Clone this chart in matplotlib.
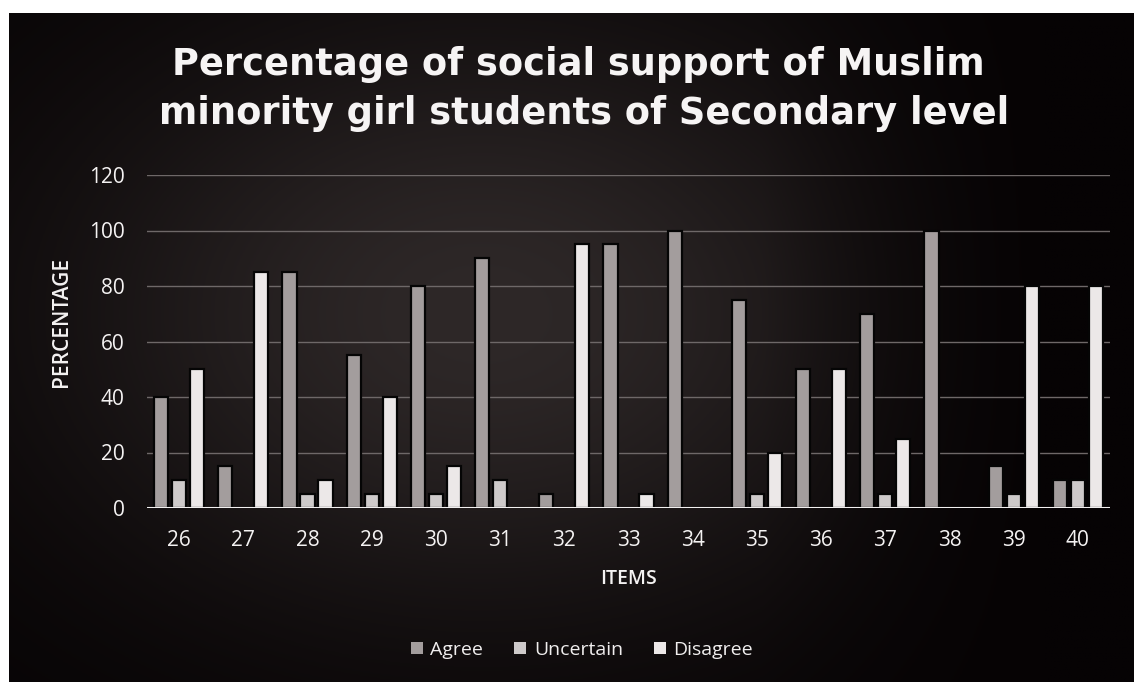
import numpy as np
import matplotlib
matplotlib.use("Agg")
import matplotlib.pyplot as plt
from matplotlib.patches import Patch

plt.rcParams["font.family"] = ["Open Sans", "DejaVu Sans"]

# Survey items and response percentages
items = ["26", "27", "28", "29", "30", "31", "32", "33", "34", "35", "36", "37", "38", "39", "40"]
agree = [40, 15, 85, 55, 80, 90, 5, 95, 100, 75, 50, 70, 100, 15, 10]
uncertain = [10, 0, 5, 5, 5, 10, 0, 0, 0, 5, 0, 5, 0, 5, 10]
disagree = [50, 85, 10, 40, 15, 0, 95, 5, 0, 20, 50, 25, 0, 80, 80]
series_names = ["Agree", "Uncertain", "Disagree"]
y_ticks = [0, 20, 40, 60, 80, 100, 120]

title_lines = ["Percentage of social support of Muslim",
               "minority girl students of Secondary level"]

W, H = 1134, 682
fig = plt.figure(figsize=(W / 100, H / 100), dpi=100, facecolor="white")

# Dark panel with a soft warm glow towards the centre-left
bg = fig.add_axes([9 / W, 0, 1 - 9 / W, 1 - 13 / H])
gx = np.linspace(0, 1, 400)
gy = np.linspace(0, 1, 240)
X, Y = np.meshgrid(gx, gy)
glow = np.exp(-((X - 0.42) / 0.38) ** 2 - ((Y - 0.45) / 0.45) ** 2)
glow *= np.clip((0.92 - X) / 0.25, 0, 1) ** 0.8
dark = np.array([6, 3, 4]) / 255.0
warm = np.array([46, 40, 40]) / 255.0
img = dark + glow[..., None] * (warm - dark)
bg.imshow(img, extent=[0, 1, 0, 1], aspect="auto", origin="upper")
bg.set_axis_off()

ax = fig.add_axes([147 / W, 1 - 508 / H, (1110 - 147) / W, (508 - 175) / H])
ax.patch.set_alpha(0)

x = np.arange(len(items))
width = 0.22
offset = 0.28
colors = ["#a39d9d", "#cecaca", "#ece8e8"]
for vals, off, col, name in zip([agree, uncertain, disagree], [-offset, 0, offset],
                                colors, series_names):
    ax.bar(x + off, vals, width, color=col, edgecolor="#050505",
           linewidth=1.6, label=name, zorder=3)

ax.set_xlim(-0.5, len(items) - 0.5)
ax.set_ylim(0, 120)
ax.set_yticks(y_ticks)
ax.set_xticks(x)
ax.set_xticklabels(items)
for sp in ax.spines.values():
    sp.set_visible(False)
ax.axhline(0, color="#f2f0f0", lw=2.2, zorder=4)
for yv in y_ticks[1:]:
    ax.axhline(yv, color="#6e6868", lw=1.0, zorder=1)

ax.tick_params(axis="both", length=0, colors="#f4f2f2", labelsize=15)
ax.tick_params(axis="x", pad=16)
ax.tick_params(axis="y", pad=16)

ax.set_xlabel("ITEMS", color="#f4f2f2", fontsize=14, fontweight="semibold", labelpad=13)
ax.set_ylabel("PERCENTAGE", color="#f4f2f2", fontsize=15, fontweight="semibold")
ax.yaxis.set_label_coords(-0.078, 0.56)

title_font = dict(ha="center", va="baseline", color="#f6f4f4", fontsize=26.5,
                  fontweight="bold", family=["DejaVu Sans"])
fig.text(578 / W, 1 - 75 / H, title_lines[0], **title_font)
fig.text(584 / W, 1 - 124 / H, title_lines[1], **title_font)

handles = [Patch(facecolor=c, edgecolor="none") for c in colors]
leg = fig.legend(handles, series_names, loc="center", bbox_to_anchor=(582 / W, 1 - 650 / H),
                 ncol=3, frameon=False, fontsize=14, handlelength=0.6, handleheight=0.6,
                 handletextpad=0.4, columnspacing=1.6)
for t in leg.get_texts():
    t.set_color("#f0eeee")

fig.savefig("out.png", dpi=100, facecolor=fig.get_facecolor())
